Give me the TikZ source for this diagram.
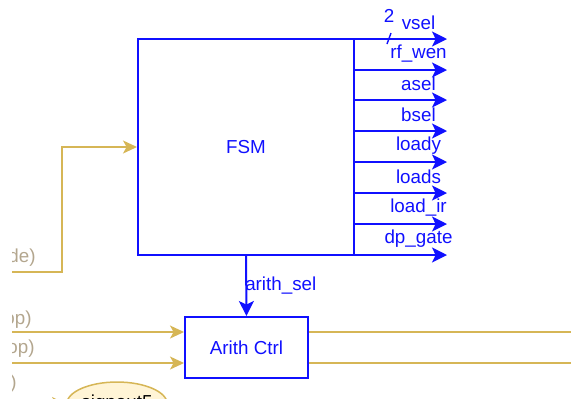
\documentclass[tikz,border=0pt]{standalone}
\usepackage{fontspec}
\setmainfont{Liberation Sans}
\usetikzlibrary{arrows.meta,positioning,shapes.geometric}
\definecolor{sigblue}{HTML}{1010FF}
\definecolor{gold}{HTML}{D6B656}
\definecolor{goldsoft}{HTML}{FFF4D6}
\definecolor{fadetext}{HTML}{B3A68E}
\tikzset{
  fbox/.style={draw=sigblue,line width=1pt,text=sigblue,inner sep=0pt},
  barr/.style={-{Stealth[length=7.5pt,width=7.5pt,inset=1.8pt]},line width=1pt,draw=sigblue},
  bline/.style={line width=0.7pt,draw=sigblue},
  garr/.style={-{Stealth[length=7pt,width=6.5pt,inset=1.8pt]},line width=0.75pt,draw=gold},
  gline/.style={line width=0.75pt,draw=gold},
  olbl/.style={text=sigblue,pos=0.69,yshift=8pt,inner sep=0pt},
  flbl/.style={text=fadetext,anchor=east,inner sep=0pt}
}
\begin{document}
\begin{tikzpicture}[x=0.5pt,y=-0.5pt,font=\fontsize{9.4}{11}\selectfont]
  \useasboundingbox (0,0) rectangle (571,398);
  \clip (12,0) rectangle (571,398);
  % blocks
  \node[fbox,minimum width=108pt,minimum height=108pt] (fsm) at (246,147) {FSM};
  \node[fbox,minimum width=61.5pt,minimum height=30.5pt] (arith) at (246.5,347.5) {Arith Ctrl};
  \node[ellipse,draw=gold,fill=goldsoft,line width=0.75pt,minimum width=47pt,minimum height=22pt,inner sep=0pt] (sig) at (117,404) {signout5};
  % FSM outputs
  \coordinate (vsel) at (447,39);  \coordinate (rfwen) at (447,70);
  \coordinate (asel) at (447,100); \coordinate (bsel) at (447,131);
  \coordinate (loady) at (447,162); \coordinate (loads) at (447,193);
  \coordinate (loadir) at (447,224); \coordinate (dpgate) at (447,255);
  \draw[barr] (fsm.east |- vsel) -- node[olbl] (vsellbl) {vsel} (vsel);
  \draw[barr] (fsm.east |- rfwen) -- node[olbl] (rfwenlbl) {rf\_wen} (rfwen);
  \draw[barr] (fsm.east |- asel) -- node[olbl] (asellbl) {asel} (asel);
  \draw[barr] (fsm.east |- bsel) -- node[olbl] (bsellbl) {bsel} (bsel);
  \draw[barr] (fsm.east |- loady) -- node[olbl] (loadylbl) {loady} (loady);
  \draw[barr] (fsm.east |- loads) -- node[olbl] (loadslbl) {loads} (loads);
  \draw[barr] (fsm.east |- loadir) -- node[olbl] (loadirlbl) {load\_ir} (loadir);
  \draw[barr] (fsm.east |- dpgate) -- node[olbl] (dpgatelbl) {dp\_gate} (dpgate);
  \node[text=sigblue,inner sep=0pt] (vwidth) at (389,16) {2};
  \draw[bline] (387,44) -- (391,33);
  \draw[barr] (fsm.south) -- node[text=sigblue,anchor=west,inner sep=0pt,xshift=-1pt] (sellbl) {arith\_sel} (arith.north);
  % faded inputs on the left
  \coordinate (decin) at (0,272); \coordinate (opain) at (0,332); \coordinate (opbin) at (0,363);
  \coordinate (sigin) at (0,402);
  \coordinate (opaout) at (580,332); \coordinate (opbout) at (580,363);
  \draw[garr] (decin) -| (62,147) -- (fsm.west);
  \draw[garr] (opain) -- (opain -| arith.west);
  \draw[garr] (opbin) -- (opbin -| arith.west);
  \draw[gline] (arith.east |- opaout) -- (opaout);
  \draw[gline] (arith.east |- opbout) -- (opbout);
  \draw[garr] (sigin) -- (sig.west);
  \node[flbl] (declbl) at (36,258) {de)};
  \node[flbl] (opalbl) at (32,320) {op)};
  \node[flbl] (opblbl) at (35,349) {op)};
  \node[flbl] (siglbl) at (17,384) {)};
\end{tikzpicture}
\end{document}
